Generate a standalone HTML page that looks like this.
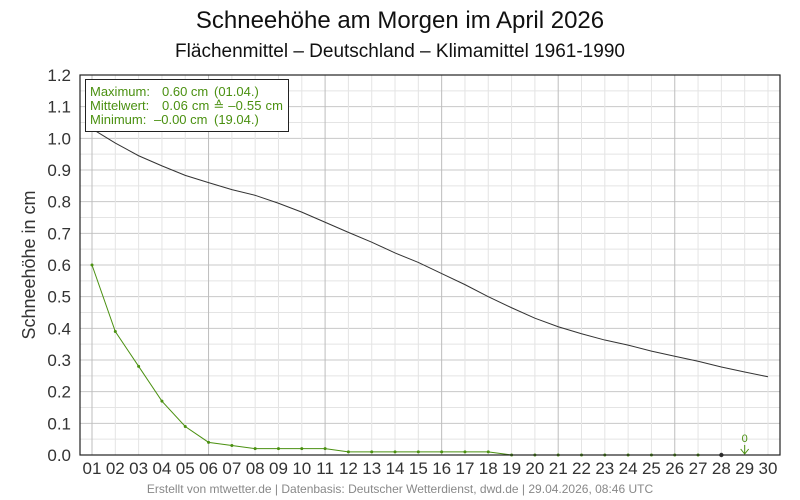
<!DOCTYPE html>
<html><head><meta charset="utf-8"><style>body{margin:0;background:#fff}svg{display:block}</style></head><body>
<svg width="800" height="500" xmlns="http://www.w3.org/2000/svg" font-family="Liberation Sans, sans-serif">
<rect width="800" height="500" fill="#fff"/>
<text x="400" y="28" font-size="24" text-anchor="middle" fill="#111">Schneehöhe am Morgen im April 2026</text>
<text x="400" y="57" font-size="19" text-anchor="middle" fill="#111">Flächenmittel – Deutschland – Klimamittel 1961-1990</text>
<g id="grid"></g>
<g id="lines"></g>
<rect x="80" y="75" width="700" height="380" fill="none" stroke="#222" stroke-width="1.2"/>
<g id="labels" font-size="17" fill="#333"></g>
<text transform="translate(35,265) rotate(-90)" font-size="18" text-anchor="middle" fill="#333">Schneehöhe in cm</text>
<rect x="85.5" y="79.5" width="203" height="52" fill="#fff" stroke="#222"/>
<g font-size="13" fill="#4a9010">
<text x="90" y="96">Maximum:</text><text x="162" y="96">0.60 cm</text><text x="214" y="96">(01.04.)</text>
<text x="90" y="110">Mittelwert:</text><text x="162" y="110" textLength="121">0.06 cm ≙ –0.55 cm</text>
<text x="90" y="124">Minimum:</text><text x="154" y="124">–0.00 cm</text><text x="214" y="124">(19.04.)</text>
</g>
<text x="400" y="493" font-size="12" text-anchor="middle" fill="#888">Erstellt von mtwetter.de | Datenbasis: Deutscher Wetterdienst, dwd.de | 29.04.2026, 08:46 UTC</text>
<script>
var ns="http://www.w3.org/2000/svg";
function X(d){return 92+(d-1)*23.31}
function Y(v){return 455-v*316.67}
function el(p,t,a,txt){var e=document.createElementNS(ns,t);for(var k in a)e.setAttribute(k,a[k]);if(txt!=null)e.textContent=txt;document.getElementById(p).appendChild(e);return e}
for(var i=1;i<24;i++){var y=455-i*15.833;el("grid","line",{x1:80,x2:780,y1:y,y2:y,stroke:i%2?"#e4e4e4":"#c8c8c8","stroke-width":1});}
for(var d=1;d<=30;d++){el("grid","line",{x1:X(d),x2:X(d),y1:75,y2:455,stroke:(d%5==1)?"#bdbdbd":"#e4e4e4","stroke-width":1});
el("labels","text",{x:X(d),y:474,"text-anchor":"middle"},(d<10?"0":"")+d);}
for(var i=0;i<=12;i++){el("labels","text",{x:71,y:Y(i/10)+6,"text-anchor":"end"},(i/10).toFixed(1));}
var b=[1.03,0.985,0.945,0.913,0.883,0.86,0.838,0.82,0.795,0.767,0.735,0.703,0.672,0.638,0.608,0.573,0.538,0.5,0.465,0.432,0.405,0.383,0.363,0.347,0.328,0.312,0.296,0.278,0.262,0.247];
el("lines","polyline",{points:b.map(function(v,i){return X(i+1)+","+Y(v)}).join(" "),fill:"none",stroke:"#333","stroke-width":1});
var g=[0.6,0.39,0.28,0.17,0.09,0.04,0.03,0.02,0.02,0.02,0.02,0.01,0.01,0.01,0.01,0.01,0.01,0.01,0,0,0,0,0,0,0,0,0,0];
el("lines","polyline",{points:g.map(function(v,i){return X(i+1)+","+Y(v)}).join(" "),fill:"none",stroke:"#4a9010","stroke-width":1});
g.forEach(function(v,i){el("lines","circle",{cx:X(i+1),cy:Y(v),r:i==27?2.2:1.5,fill:i==27?"#333":"#4a9010"});});
el("lines","text",{x:X(29),y:442,"font-size":11,"text-anchor":"middle",fill:"#4a9010"},"0");
el("lines","path",{d:"M"+X(29)+",445 V454 M"+(X(29)-4)+",449 L"+X(29)+",454 L"+(X(29)+4)+",449",stroke:"#4a9010",fill:"none","stroke-width":1});
</script>
</svg>
</body></html>
